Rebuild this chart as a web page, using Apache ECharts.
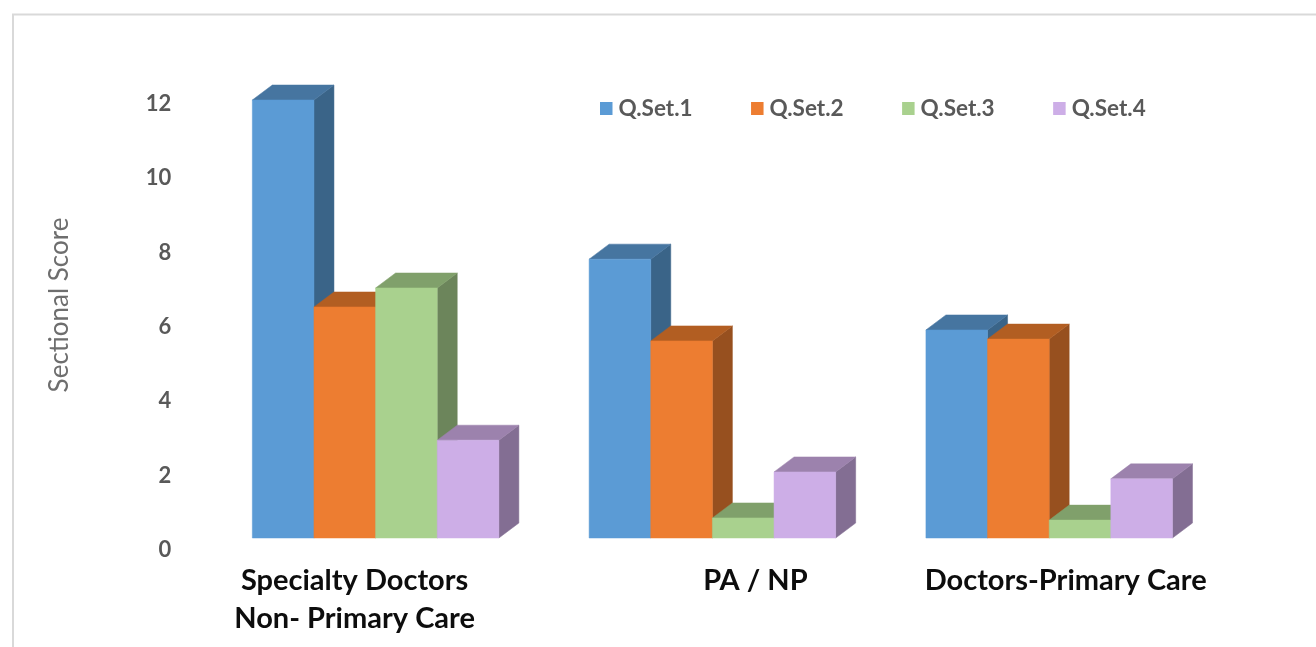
<!DOCTYPE html>
<html>
<head>
<meta charset="utf-8">
<style>html,body{margin:0;padding:0;background:#fff}#chart{width:1316px;height:647px}</style>
<script src="https://cdn.jsdelivr.net/npm/echarts@6/dist/echarts.min.js"></script>
</head>
<body>
<div id="chart"></div>
<script>
const categories = ['Specialty Doctors\nNon- Primary Care', 'PA / NP', 'Doctors-Primary Care'];
const seriesNames = ['Q.Set.1', 'Q.Set.2', 'Q.Set.3', 'Q.Set.4'];
const qSet1 = [12.0, 7.64, 5.7];
const qSet2 = [6.33, 5.4, 5.45];
const qSet3 = [6.85, 0.55, 0.49];
const qSet4 = [2.68, 1.81, 1.62];
const yTicks = [0, 2, 4, 6, 8, 10, 12];

const frontColors = ['#5B9BD5', '#ED7D31', '#A9D18E', '#CDAEE7'];
const topColors = ['#4675A0', '#B25E22', '#80A06B', '#9C82AD'];
const sideColors = ['#3A6488', '#97501F', '#6C855B', '#836E93'];

const FONT = 'Lato, "Open Sans", sans-serif';
const BAR_RATIO = 0.183;
const DEPTH_X = 20;
const DEPTH_Y = 15;
// Horizontal nudges of the category captions under their groups.
const captionShift = [
  { padding: [0, 42, 0, 0] },
  { padding: [0, 0, 0, 86] },
  { padding: [0, 0, 0, 33] }
];

// One extruded column: side and top faces first, the front face over them.
function drawColumn(seriesIndex, params, api) {
  const base = api.coord([api.value(0), 0]);
  const tip = api.coord([api.value(0), api.value(1)]);
  const band = api.size([1, 0])[0];
  const w = band * BAR_RATIO;
  const x0 = base[0] + (seriesIndex - 2) * w;
  const x1 = x0 + w;
  const yB = base[1];
  const yT = tip[1];
  const poly = (points, fill) => ({
    type: 'polygon',
    shape: { points },
    style: { fill, stroke: fill, lineWidth: 0.5 }
  });
  return {
    type: 'group',
    children: [
      poly([[x1, yT], [x1 + DEPTH_X, yT - DEPTH_Y], [x1 + DEPTH_X, yB - DEPTH_Y], [x1, yB]], sideColors[seriesIndex]),
      poly([[x0, yT], [x0 + DEPTH_X, yT - DEPTH_Y], [x1 + DEPTH_X, yT - DEPTH_Y], [x1, yT]], topColors[seriesIndex]),
      poly([[x0, yT], [x1, yT], [x1, yB], [x0, yB]], frontColors[seriesIndex])
    ]
  };
}

const seriesValues = [qSet1, qSet2, qSet3, qSet4];
const richCaptions = {};
captionShift.forEach((s, i) => {
  richCaptions['c' + i] = {
    fontFamily: FONT, fontWeight: 'bold', fontSize: 29, color: '#0d0d0d',
    lineHeight: 38, padding: s.padding
  };
});

const chart = echarts.init(document.getElementById('chart'), null, { renderer: 'canvas' });
chart.setOption({
  animation: false,
  backgroundColor: '#ffffff',
  graphic: [{
    type: 'polyline',
    silent: true,
    shape: { points: [[13, 647], [13, 14.5], [1316, 14.5]] },
    style: { fill: null, stroke: '#d9d9d9', lineWidth: 2 }
  }],
  legend: {
    left: 600,
    top: 97,
    padding: 0,
    itemWidth: 12.5,
    itemHeight: 13,
    itemGap: 58.5,
    icon: 'rect',
    data: seriesNames,
    textStyle: { fontFamily: FONT, fontWeight: 'bold', fontSize: 22.5, color: '#595959', padding: [0, 0, 0, 1] }
  },
  grid: [
    { left: 207.2, width: 1010.4, top: 100, height: 438 },
    { left: 207.2, width: 1010.4, top: 104, height: 446 }
  ],
  xAxis: [
    {
      type: 'category',
      gridIndex: 0,
      data: categories,
      axisLine: { show: false },
      axisTick: { show: false },
      axisLabel: {
        interval: 0,
        margin: 24,
        formatter: (value, index) =>
          value.split('\n').map(line => `{c${index}|${line}}`).join('\n'),
        rich: richCaptions
      }
    },
    { type: 'category', gridIndex: 1, data: categories, show: false }
  ],
  yAxis: [
    { type: 'value', gridIndex: 0, min: 0, max: 12, show: false },
    {
      type: 'value',
      gridIndex: 1,
      min: yTicks[0],
      max: yTicks[yTicks.length - 1],
      interval: 2,
      splitLine: { show: false },
      axisLine: { show: false },
      axisTick: { show: false },
      axisLabel: {
        margin: 36,
        fontFamily: FONT, fontWeight: 'bold', fontSize: 22, color: '#595959'
      },
      name: 'Sectional Score',
      nameLocation: 'middle',
      nameGap: 135,
      nameTextStyle: {
        fontFamily: FONT, fontSize: 26, color: '#6e6e6e',
        padding: [0, 0, 0, 44]
      }
    }
  ],
  series: seriesNames.map((name, i) => ({
    name,
    type: 'custom',
    xAxisIndex: 0,
    yAxisIndex: 0,
    itemStyle: { color: frontColors[i] },
    renderItem: (params, api) => drawColumn(i, params, api),
    encode: { x: 0, y: 1 },
    data: seriesValues[i].map((v, c) => [c, v])
  }))
});
</script>
</body>
</html>
